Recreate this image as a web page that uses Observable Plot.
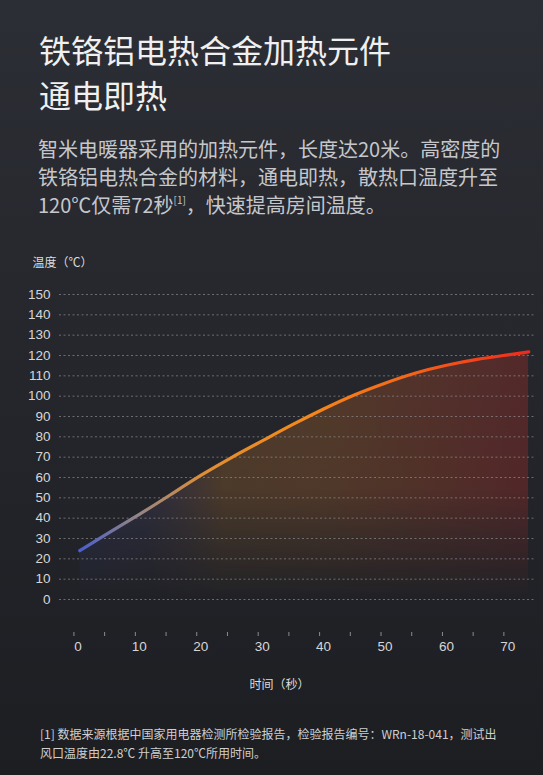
<!DOCTYPE html>
<html><head><meta charset="utf-8">
<script src="https://cdn.jsdelivr.net/npm/d3@7"></script>
<script src="https://cdn.jsdelivr.net/npm/@observablehq/plot@0.6"></script>
<style>
html,body{margin:0;padding:0;}
body{width:543px;height:775px;overflow:hidden;position:relative;background:linear-gradient(#2c2e35,#1d1e22);font-family:"Noto Sans CJK SC","Noto Sans",sans-serif;}
#title{position:absolute;left:39px;top:27px;font-size:32px;line-height:45px;color:#f0f0f0;white-space:nowrap;}
#body{position:absolute;left:38px;top:135px;font-size:20px;line-height:28px;color:#c6c7cb;white-space:nowrap;}
#body sup{font-size:10px;vertical-align:9px;line-height:0;}
#chart{position:absolute;left:0;top:240px;}
#note{position:absolute;left:40px;top:725px;font-size:12px;line-height:18.5px;color:#cfcfcf;white-space:nowrap;}
</style>
</head><body>
<div id="title">铁铬铝电热合金加热元件<br>通电即热</div>
<div id="body">智米电暖器采用的加热元件，长度达20米。高密度的<br>铁铬铝电热合金的材料，通电即热，散热口温度升至<br>120℃仅需72秒<sup>[1]</sup>，快速提高房间温度。</div>
<div id="chart"></div>
<div id="note">[1] 数据来源根据中国家用电器检测所检验报告，检验报告编号：WRn-18-041，测试出<br>风口温度由22.8℃ 升高至120℃所用时间。</div>
<script>
// data
const times = [0.3, 5, 10, 15, 20, 25, 30, 35, 40, 45, 50, 55, 60, 65, 70, 73.4];
const temps = [24, 32.8, 41.9, 51.4, 61.0, 69.8, 78.0, 86.1, 93.7, 100.6, 106.4, 111.4, 115.2, 118.1, 120.3, 121.8];
const yTicks = [0, 10, 20, 30, 40, 50, 60, 70, 80, 90, 100, 110, 120, 130, 140, 150];
const xLabels = [0, 10, 20, 30, 40, 50, 60, 70];
const xMinorTicks = [0, 5, 10, 15, 20, 25, 30, 35, 40, 45, 50, 55, 60, 65, 70];
const yTitle = "温度（℃）";
const xTitle = "时间（秒）";

const data = times.map((t, i) => ({t, v: temps[i]}));

const chart = Plot.plot({
  width: 543,
  height: 460,
  marginLeft: 59,
  marginRight: 8,
  marginTop: 54,
  marginBottom: 101,
  style: {background: "transparent", color: "#d6d6d8", fontFamily: "'Noto Sans CJK SC', sans-serif", fontSize: "13px", overflow: "visible"},
  x: {domain: [-3, 74.5], axis: null, label: null},
  y: {domain: [0, 150], axis: null, label: null},
  marks: [
    Plot.areaY(data, {x: "t", y: "v", curve: "natural", fill: "url(#areaFill)"}),
    Plot.gridY(yTicks, {stroke: "#8a8b90", strokeOpacity: 0.7, strokeDasharray: "2,2.5", strokeWidth: 1}),
    Plot.axisY(yTicks, {label: null, tickSize: 0, tickPadding: 9, fontSize: 13.5, fontFamily: "'Liberation Sans', sans-serif"}),
    Plot.axisX(xMinorTicks, {label: null, tickSize: 4, tickFormat: () => "", dy: 33, dx: -4, stroke: "#8a8b90"}),
    Plot.axisX(xLabels, {label: null, tickSize: 0, tickPadding: 42, fontSize: 13.5, fontFamily: "'Liberation Sans', sans-serif"}),
    Plot.lineY(data, {x: "t", y: "v", curve: "natural", stroke: "url(#lineGrad)", strokeWidth: 3.2, strokeLinecap: "round"}),
    Plot.text([yTitle], {text: d => d, frameAnchor: "top-left", textAnchor: "start", dx: -27, dy: -36, fontSize: 12, fill: "#dcdcdc"}),
    Plot.text([xTitle], {text: d => d, frameAnchor: "bottom", dx: -18, dy: 89, fontSize: 12, fill: "#dcdcdc"})
  ]
});

const defs = `
<linearGradient id="lineGrad" x1="0" y1="0" x2="1" y2="0">
  <stop offset="0" stop-color="#4a5fcc"/>
  <stop offset="0.13" stop-color="#958584"/>
  <stop offset="0.28" stop-color="#e08e35"/>
  <stop offset="0.5" stop-color="#f5891a"/>
  <stop offset="0.72" stop-color="#f5681a"/>
  <stop offset="0.88" stop-color="#f2441b"/>
  <stop offset="1" stop-color="#ee2a1c"/>
</linearGradient>
<linearGradient id="areaFill" x1="0" y1="0" x2="1" y2="0">
  <stop offset="0" stop-color="#4a5ad0" stop-opacity="0.2"/>
  <stop offset="0.15" stop-color="#6a60a8" stop-opacity="0.16"/>
  <stop offset="0.32" stop-color="#e08a30" stop-opacity="0.22"/>
  <stop offset="0.55" stop-color="#e07a2a" stop-opacity="0.24"/>
  <stop offset="1" stop-color="#d83028" stop-opacity="0.26"/>
</linearGradient>
<linearGradient id="fadeGrad" x1="0" y1="0" x2="0" y2="1">
  <stop offset="0" stop-color="#fff"/>
  <stop offset="0.55" stop-color="#fff"/>
  <stop offset="1" stop-color="#000"/>
</linearGradient>
<mask id="fade" maskContentUnits="objectBoundingBox">
  <rect x="0" y="0" width="1" height="1" fill="url(#fadeGrad)"/>
</mask>`;
const d = document.createElementNS("http://www.w3.org/2000/svg", "defs");
d.innerHTML = defs;
chart.insertBefore(d, chart.firstChild);
const areaG = chart.querySelector('g[aria-label="area"]');
if (areaG) areaG.querySelectorAll("path").forEach(p => p.setAttribute("mask", "url(#fade)"));
document.getElementById("chart").appendChild(chart);
</script>
</body></html>
